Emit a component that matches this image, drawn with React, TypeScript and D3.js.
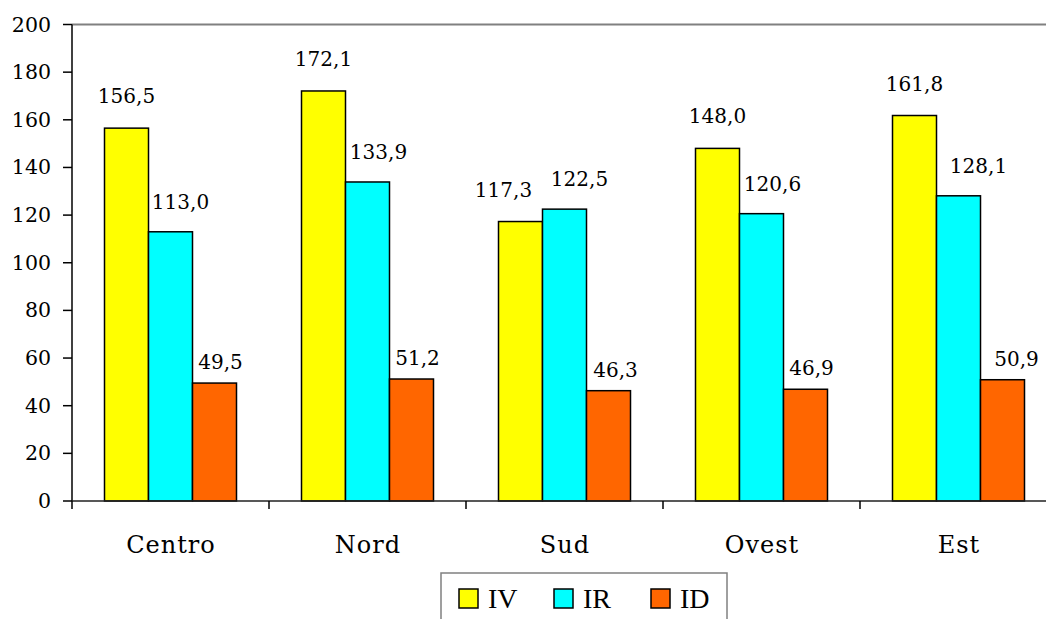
import React from "react";
import * as d3 from "d3";

const categories = ["Centro", "Nord", "Sud", "Ovest", "Est"];
const seriesNames = ["IV", "IR", "ID"];
const ivValues = [156.5, 172.1, 117.3, 148.0, 161.8];
const irValues = [113.0, 133.9, 122.5, 120.6, 128.1];
const idValues = [49.5, 51.2, 46.3, 46.9, 50.9];
const yTicks = [0, 20, 40, 60, 80, 100, 120, 140, 160, 180, 200];
const colors = ["#FFFF00", "#00FFFF", "#FF6600"];

// label layout nudges (px), per series then category
const labelDx = [
  [0, 0, -17, 0, 0],
  [10, 11, 15, 11, 20],
  [6, 6, 7, 6, 14],
];
const labelGap = [25, 23, 14];

const W = 1046;
const H = 619;
const left = 72;
const top = 24.5;
const bottom = 501;
const step = 197;

export default function App() {
  const series = [ivValues, irValues, idValues];
  const x = d3
    .scaleBand<string>()
    .domain(categories)
    .range([left, left + step * categories.length])
    .padding(0);
  const inner = d3
    .scaleBand<string>()
    .domain(seriesNames)
    .range([32.5, step - 32.5])
    .padding(0);
  const y = d3.scaleLinear().domain([0, 200]).range([bottom, top]);
  const fmt = (v: number) => v.toFixed(1).replace(".", ",");
  const serif = "'DejaVu Serif', serif";

  return (
    <svg
      width={W}
      height={H}
      style={{ position: "absolute", left: 0, top: 0, background: "#fff" }}
    >
      <line x1={left} x2={W} y1={top} y2={top} stroke="#808080" strokeWidth={2} />
      {categories.map((c, ci) =>
        series.map((vals, si) => {
          const bx = (x(c) as number) + (inner(seriesNames[si]) as number);
          const bw = inner.bandwidth();
          const by = y(vals[ci]);
          return (
            <g key={c + si}>
              <rect
                x={bx}
                y={by}
                width={bw}
                height={bottom - by}
                fill={colors[si]}
                stroke="#000"
                strokeWidth={1.5}
              />
              <text
                x={bx + bw / 2 + labelDx[si][ci]}
                y={by - labelGap[si]}
                textAnchor="middle"
                fontFamily={serif}
                fontSize={20}
                fill="#000"
              >
                {fmt(vals[ci])}
              </text>
            </g>
          );
        })
      )}
      <line x1={left} x2={left} y1={top} y2={bottom} stroke="#000" strokeWidth={1.5} />
      {yTicks.map((t) => (
        <g key={t}>
          <line x1={left - 9} x2={left} y1={y(t)} y2={y(t)} stroke="#000" strokeWidth={1.5} />
          <text
            x={51}
            y={y(t) + 7}
            textAnchor="end"
            fontFamily={serif}
            fontSize={20.5}
            fill="#000"
          >
            {t}
          </text>
        </g>
      ))}
      <line x1={left} x2={W} y1={bottom} y2={bottom} stroke="#202020" strokeWidth={1.5} />
      {categories.map((c) => (
        <g key={c}>
          <line
            x1={x(c) as number}
            x2={x(c) as number}
            y1={bottom}
            y2={bottom + 8}
            stroke="#000"
            strokeWidth={1.5}
          />
          <text
            x={(x(c) as number) + step / 2 + 0.5}
            y={553}
            textAnchor="middle"
            fontFamily={serif}
            fontSize={24}
            letterSpacing={1}
            fill="#000"
          >
            {c}
          </text>
        </g>
      ))}
      <rect x={441} y={573} width={286} height={60} fill="#fff" stroke="#808080" strokeWidth={1.5} />
      {seriesNames.map((s, i) => {
        const lx = [459, 554, 651][i];
        return (
          <g key={s}>
            <rect x={lx} y={589} width={19} height={19} fill={colors[i]} stroke="#000" strokeWidth={1.5} />
            <text
              x={lx + 29}
              y={608}
              fontFamily="'Liberation Serif', serif"
              fontSize={28}
              fill="#000"
            >
              {s}
            </text>
          </g>
        );
      })}
    </svg>
  );
}
